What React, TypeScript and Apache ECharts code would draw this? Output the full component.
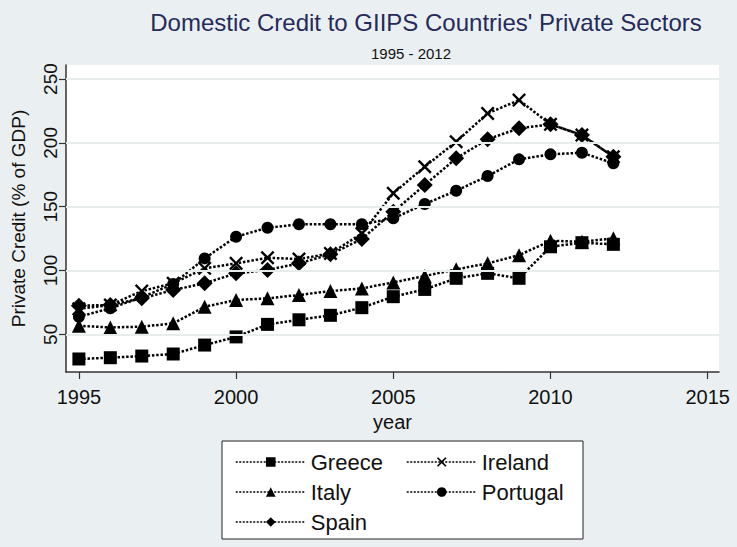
import React, { useEffect, useRef } from "react";
import * as echarts from "echarts";

const years = [1995, 1996, 1997, 1998, 1999, 2000, 2001, 2002, 2003, 2004, 2005, 2006, 2007, 2008, 2009, 2010, 2011, 2012];
const greece = [30.7, 31.7, 33, 34.6, 41.6, 48, 57.8, 61.4, 64.9, 70.9, 79.5, 85.2, 93.9, 97.8, 93.9, 118.6, 121.8, 120.5];
const italy = [56.7, 55.4, 56, 58.6, 71.6, 76.9, 78.2, 80.8, 83.9, 86, 90.7, 95.7, 100.9, 105.6, 112, 123.3, 122.5, 125.2];
const ireland = [70, 73, 83.9, 90, 101.7, 105.6, 110, 109, 113.4, 129, 160.5, 181.3, 200.9, 223.1, 233.5, 214.5, 206.1, 189.1];
const portugal = [63.8, 70.4, 79, 89.4, 109.5, 126.5, 133.5, 136.2, 136.2, 136.2, 140.9, 152.1, 162.5, 174, 187.1, 191, 192.3, 184];
const spain = [72.4, 73, 78.2, 84.7, 90, 97.8, 100.4, 105.6, 112.7, 124.7, 146, 167, 187.9, 202.8, 211.4, 214.5, 206.1, 189.1];

const xTicks = [1995, 2000, 2005, 2010, 2015];
const yTicks = [50, 100, 150, 200, 250];

const FONT = "Liberation Sans, Arial, sans-serif";
const X_SYMBOL = "path://M0,1.2L1.2,0L5,3.8L8.8,0L10,1.2L6.2,5L10,8.8L8.8,10L5,6.2L1.2,10L0,8.8L3.8,5Z";

export default function App() {
  const ref = useRef<HTMLDivElement>(null);
  useEffect(() => {
    if (!ref.current) return;
    const chart = echarts.init(ref.current, null, { renderer: "svg" });
    const mk = (name: string, vals: number[], symbol: string, size: number) => ({
      name,
      type: "line",
      z: 3,
      data: years.map((y, i) => [y, vals[i]]),
      symbol,
      symbolSize: size,
      showSymbol: true,
      itemStyle: { color: "#000" },
      lineStyle: { color: "#000", width: 2.5, type: [2.5, 1.8] },
    });
    const legendCommon = {
      orient: "vertical",
      top: 446,
      itemWidth: 70,
      itemHeight: 12,
      itemGap: 8,
      lineStyle: { width: 1.5, type: [2, 1.5] },
      textStyle: { fontSize: 22, color: "#111", lineHeight: 22, fontFamily: FONT },
    };
    chart.setOption({
      animation: false,
      backgroundColor: "#eaf0f2",
      textStyle: { fontFamily: FONT },
      title: [
        {
          text: "Domestic Credit to GIIPS Countries' Private Sectors",
          left: 421,
          textAlign: "center",
          top: 5,
          textStyle: { fontSize: 24, fontWeight: "normal", color: "#252a5a", fontFamily: FONT },
        },
        {
          text: "1995 - 2012",
          left: 406,
          textAlign: "center",
          top: 41,
          textStyle: { fontSize: 15, fontWeight: "normal", color: "#111", fontFamily: FONT },
        },
      ],
      grid: {
        left: 66,
        top: 65,
        right: 18,
        bottom: 175,
        show: true,
        backgroundColor: "#ffffff",
        borderWidth: 0,
      },
      xAxis: {
        type: "value",
        min: 1994.59,
        max: 2015.36,
        name: "year",
        nameLocation: "middle",
        nameGap: 38,
        nameTextStyle: { fontSize: 20, color: "#111", fontFamily: FONT },
        axisLine: { show: true, onZero: false, lineStyle: { color: "#333", width: 1.5 } },
        axisTick: { show: true, length: 7, lineStyle: { color: "#333", width: 1.2 }, customValues: xTicks },
        axisLabel: {
          fontSize: 20,
          color: "#111",
          margin: 15,
          customValues: xTicks,
          fontFamily: FONT,
          formatter: (v: number) => String(v),
        },
        splitLine: { show: false },
      },
      yAxis: {
        type: "value",
        min: 20.5,
        max: 261,
        name: "Private Credit (% of GDP)",
        nameLocation: "middle",
        nameGap: 38,
        nameTextStyle: { fontSize: 19, color: "#111", fontFamily: FONT },
        axisLine: { show: true, onZero: false, lineStyle: { color: "#333", width: 1.5 } },
        axisTick: { show: true, length: 7, lineStyle: { color: "#333", width: 1.2 }, customValues: yTicks },
        axisLabel: {
          fontSize: 19,
          color: "#111",
          rotate: 90,
          margin: 6,
          customValues: yTicks,
          fontFamily: FONT,
          formatter: (v: number) => String(v),
        },
        splitLine: { show: false },
      },
      legend: [
        { ...legendCommon, left: 230, data: ["Greece", "Italy", "Spain"] },
        { ...legendCommon, left: 401, data: ["Ireland", "Portugal"] },
      ],
      graphic: [
        {
          type: "rect",
          z: -1,
          shape: { x: 222, y: 441, width: 361, height: 98 },
          style: { fill: "#ffffff", stroke: "#222", lineWidth: 1 },
        },
      ],
      series: [
        {
          name: "gridlines",
          type: "line",
          z: 1,
          data: [],
          silent: true,
          markLine: {
            silent: true,
            symbol: "none",
            label: { show: false },
            lineStyle: { color: "#e8eced", width: 2, type: "solid" },
            data: yTicks.map((v) => ({ yAxis: v })),
          },
        },
        mk("Greece", greece, "rect", 13),
        mk("Italy", italy, "triangle", 14),
        mk("Ireland", ireland, X_SYMBOL, 14),
        mk("Portugal", portugal, "circle", 12),
        mk("Spain", spain, "diamond", 16),
      ],
    });
    return () => chart.dispose();
  }, []);
  return <div ref={ref} style={{ width: 737, height: 547, position: "absolute", left: 0, top: 0 }} />;
}
